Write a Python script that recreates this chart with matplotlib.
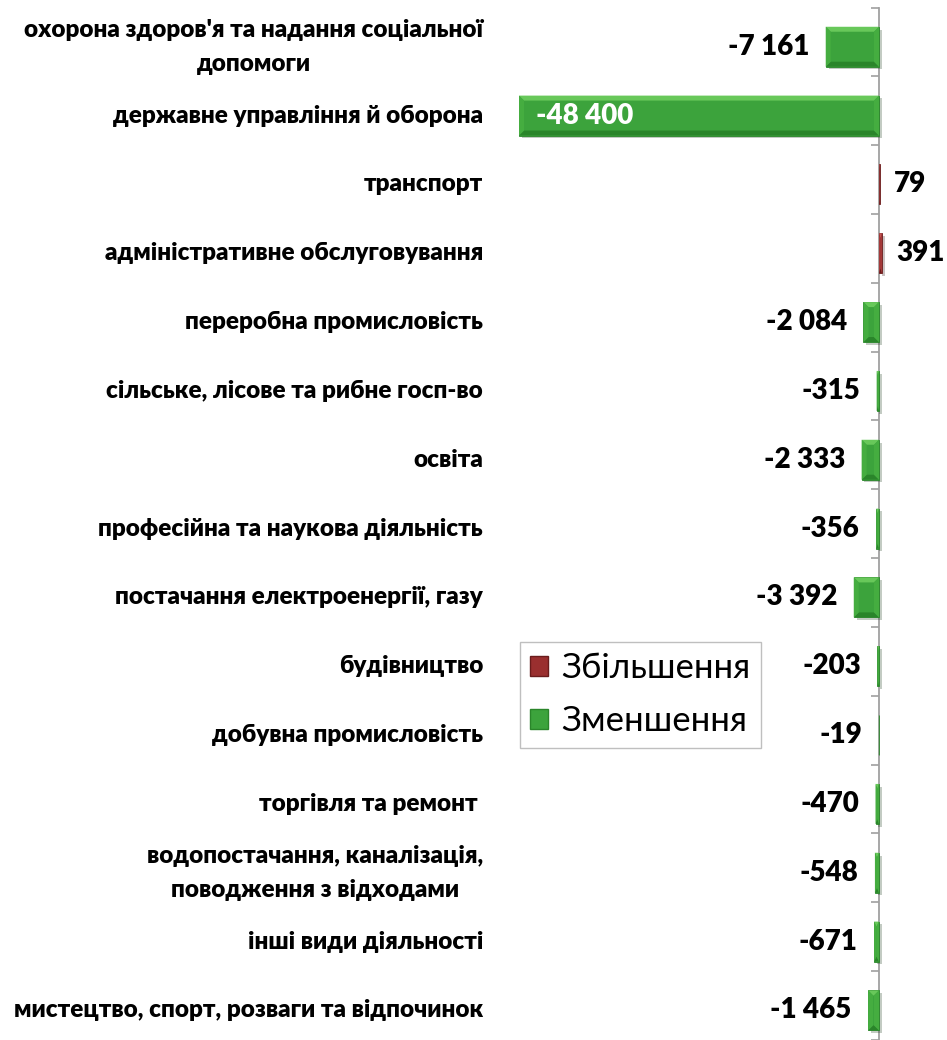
import numpy as np
import matplotlib.pyplot as plt
import matplotlib.patheffects as pe
from matplotlib.patches import Patch, Polygon

plt.rcParams['font.family'] = ['Lato', 'DejaVu Sans']

categories = [
    "охорона здоров'я та надання соціальної\nдопомоги",
    "державне управління й оборона",
    "транспорт",
    "адміністративне обслуговування",
    "переробна промисловість",
    "сільське, лісове та рибне госп-во",
    "освіта",
    "професійна та наукова діяльність",
    "постачання електроенергії, газу",
    "будівництво",
    "добувна промисловість",
    "торгівля та ремонт ",
    "водопостачання, каналізація,\nповодження з відходами",
    "інші види діяльності",
    "мистецтво, спорт, розваги та відпочинок",
]
values = [-7161, -48400, 79, 391, -2084, -315, -2333, -356, -3392,
          -203, -19, -470, -548, -671, -1465]
legend_labels = ["Збільшення", "Зменшення"]

# face, top bevel, side bevel, bottom bevel
green = ['#3ca33c', '#68c85a', '#45ad40', '#2a852a']
red = ['#9a2f2f', '#c45656', '#a53a3a', '#6a1c1c']


def fmt(v):
    s = f"{abs(v):,}".replace(",", " ")
    return ("-" if v < 0 else "") + s


fig = plt.figure(figsize=(9.47, 10.4), dpi=100)
ax = fig.add_axes([483 / 947, 0.0, 1 - 483 / 947, 1 - 7.5 / 1040])

k = 48400 / (879 - 519)   # data units per pixel along x
ax.set_xlim(-(879 - 483) * k, (947 - 879) * k)
ax.set_ylim(14.34, -0.57)

bh = 0.58
y = np.arange(len(values))
pal = [red if v > 0 else green for v in values]
bars = ax.barh(y, values, height=bh, color=[p[0] for p in pal],
               edgecolor=[p[3] for p in pal], linewidth=0.6, zorder=3)
for b in bars:
    b.set_path_effects([pe.SimplePatchShadow(offset=(2, -2), alpha=0.25),
                        pe.Normal()])

# bevel look
for i, v in enumerate(values):
    p = pal[i]
    x0, x1 = min(v, 0), max(v, 0)
    y0, y1 = i - bh / 2, i + bh / 2
    dx = min(5 * k, (x1 - x0) / 2)
    dy = 5 / 69.2
    polys = [
        ([(x0, y0), (x1, y0), (x1 - dx, y0 + dy), (x0 + dx, y0 + dy)], p[1]),
        ([(x0, y1), (x1, y1), (x1 - dx, y1 - dy), (x0 + dx, y1 - dy)], p[3]),
        ([(x0, y0), (x0 + dx, y0 + dy), (x0 + dx, y1 - dy), (x0, y1)], p[2]),
        ([(x1, y0), (x1 - dx, y0 + dy), (x1 - dx, y1 - dy), (x1, y1)], p[2]),
    ]
    for pts, c in polys:
        ax.add_patch(Polygon(pts, closed=True, facecolor=c, edgecolor='none',
                             zorder=3.5))

for i, v in enumerate(values):
    if v == min(values):
        ax.annotate(fmt(v), (v, i), xytext=(12, 0), textcoords='offset points',
                    ha='left', va='center', fontsize=20, fontweight='heavy',
                    color='white', zorder=4)
    elif v < 0:
        ax.annotate(fmt(v), (v, i), xytext=(-12, 0), textcoords='offset points',
                    ha='right', va='center', fontsize=20, fontweight='heavy',
                    color='black', zorder=4)
    else:
        ax.annotate(fmt(v), (v, i), xytext=(10, 0), textcoords='offset points',
                    ha='left', va='center', fontsize=20, fontweight='heavy',
                    color='black', zorder=4)

for i, c in enumerate(categories):
    ax.text(0, i, c, transform=ax.get_yaxis_transform(), ha='right', va='center',
            multialignment='center', fontsize=17.5, fontweight='heavy',
            linespacing=1.65)

for s in ['top', 'right', 'bottom']:
    ax.spines[s].set_visible(False)
ax.spines['left'].set_position(('data', 0))
ax.spines['left'].set_color('#a0a0a0')
ax.spines['left'].set_linewidth(1.3)
ax.set_xticks([])
ax.set_yticks(np.arange(-1, 15) + 0.43)
ax.set_yticklabels([])
ax.tick_params(axis='y', direction='out', length=6, width=1.2, color='#a0a0a0')

handles = [Patch(facecolor=red[0], edgecolor=red[3]),
           Patch(facecolor=green[0], edgecolor=green[3])]
fig.legend(handles, legend_labels, loc='upper left',
           bbox_to_anchor=(520 / 947, 1 - 642 / 1040), fontsize=25,
           frameon=True, fancybox=False, edgecolor='#bfbfbf', framealpha=1,
           handlelength=0.5, handleheight=0.5, handletextpad=0.4,
           labelspacing=0.6, borderpad=0.3, borderaxespad=0)

fig.savefig('out.png', dpi=100)
